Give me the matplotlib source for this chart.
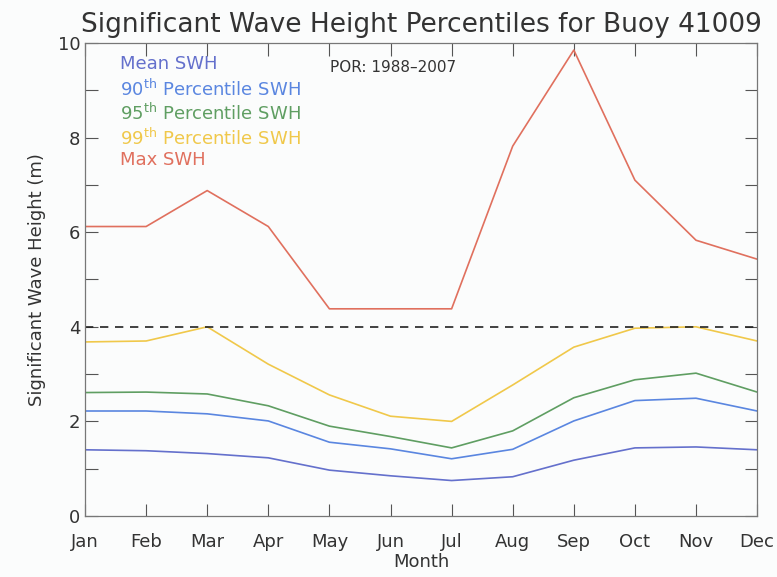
import numpy as np
import matplotlib
matplotlib.use('Agg')
import matplotlib.pyplot as plt

months = ['Jan', 'Feb', 'Mar', 'Apr', 'May', 'Jun', 'Jul', 'Aug', 'Sep', 'Oct', 'Nov', 'Dec']
mean_swh = [1.40, 1.38, 1.32, 1.23, 0.97, 0.85, 0.75, 0.83, 1.18, 1.44, 1.46, 1.40]
p90_swh = [2.22, 2.22, 2.16, 2.01, 1.56, 1.42, 1.21, 1.41, 2.01, 2.44, 2.49, 2.22]
p95_swh = [2.61, 2.62, 2.58, 2.33, 1.90, 1.68, 1.44, 1.80, 2.50, 2.88, 3.02, 2.62]
p99_swh = [3.68, 3.70, 4.00, 3.21, 2.56, 2.11, 2.00, 2.77, 3.57, 3.97, 4.00, 3.70]
max_swh = [6.12, 6.12, 6.88, 6.12, 4.38, 4.38, 4.38, 7.82, 9.85, 7.10, 5.83, 5.43]

c_mean = '#6470cc'
c_90 = '#5a86e0'
c_95 = '#5f9e62'
c_99 = '#f0c84a'
c_max = '#e0705e'

plt.rcParams['font.family'] = 'DejaVu Sans'
fig = plt.figure(figsize=(7.77, 5.77), dpi=100, facecolor='#fbfcfc')
# plot area, pixels 85..757 wide, 43..516 tall
ax = fig.add_axes([0.1094, 0.1057, 0.865, 0.8198], facecolor='#fbfcfc')

x = np.arange(len(months))
ax.plot(x, mean_swh, color=c_mean, lw=1.2)
ax.plot(x, p90_swh, color=c_90, lw=1.2)
ax.plot(x, p95_swh, color=c_95, lw=1.2)
ax.plot(x, p99_swh, color=c_99, lw=1.2)
ax.plot(x, max_swh, color=c_max, lw=1.2)
ax.axhline(4, color='#222222', lw=1.2, ls=(0, (5, 4)))

ax.set_xlim(0, 11)
ax.set_ylim(0, 10)
ax.set_xticks(x)
ax.set_xticklabels(months)
ax.set_yticks(range(0, 11, 2))
ax.set_yticks(range(1, 10, 2), minor=True)
ax.tick_params(axis='both', which='both', direction='in', top=True, right=True,
               labelsize=13, colors='#555555', labelcolor='#333333', length=9, width=0.8)
ax.tick_params(axis='x', pad=12)
for s in ax.spines.values():
    s.set_color('#777777')
    s.set_linewidth(0.9)

ax.set_xlabel('Month', fontsize=13, color='#333333', labelpad=2)
ax.set_ylabel('Significant Wave Height (m)', fontsize=13, color='#333333', labelpad=8)
ax.set_title('Significant Wave Height Percentiles for Buoy 41009', fontsize=19,
             color='#333333', pad=8)

ly = 0.975
step = 0.051
ax.text(0.052, ly, 'Mean SWH', color=c_mean, fontsize=13, transform=ax.transAxes, va='top')
ax.text(0.052, ly - step, r'90$^{\rm th}$ Percentile SWH', color=c_90, fontsize=13, transform=ax.transAxes, va='top')
ax.text(0.052, ly - 2 * step, r'95$^{\rm th}$ Percentile SWH', color=c_95, fontsize=13, transform=ax.transAxes, va='top')
ax.text(0.052, ly - 3 * step, r'99$^{\rm th}$ Percentile SWH', color=c_99, fontsize=13, transform=ax.transAxes, va='top')
ax.text(0.052, ly - 4 * step, 'Max SWH', color=c_max, fontsize=13, transform=ax.transAxes, va='top')
ax.text(0.365, ly - 0.01, 'POR: 1988\u20132007', color='#333333', fontsize=11, transform=ax.transAxes, va='top')

fig.savefig('out.png', dpi=100, facecolor=fig.get_facecolor())
